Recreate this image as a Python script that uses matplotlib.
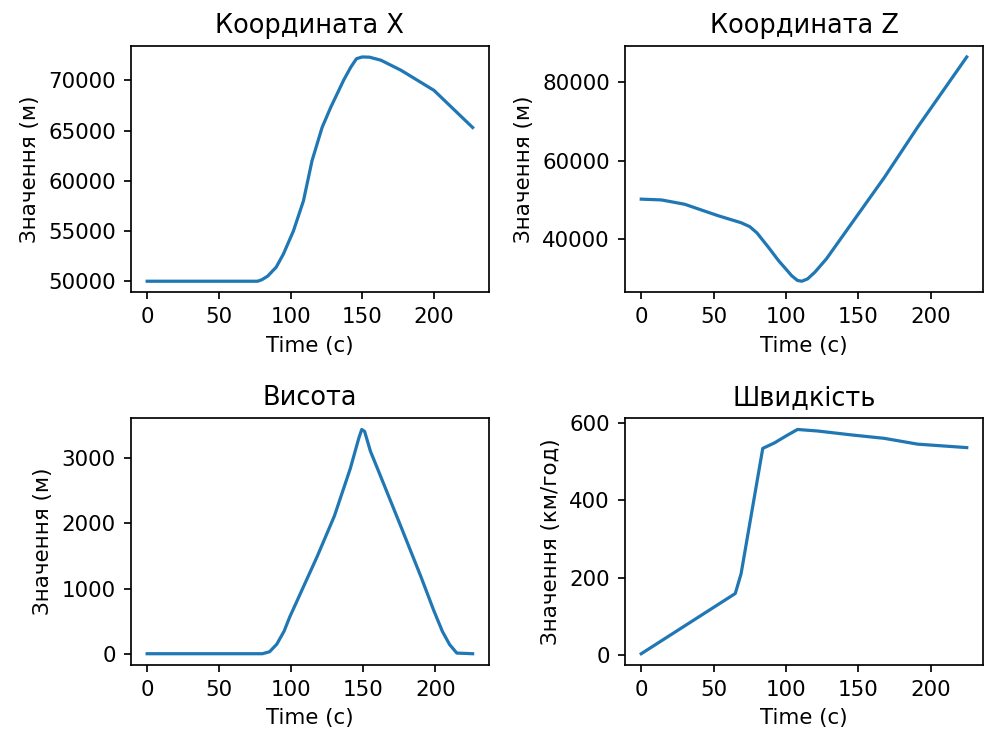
import matplotlib
matplotlib.use("Agg")
import matplotlib.pyplot as plt

# Координата X
x_time = [0, 40, 77, 80, 84, 90, 95, 102, 109, 115, 122, 128, 137, 142, 146, 150, 155, 163, 177, 200, 227]
x_vals = [50000, 50000, 50000, 50150, 50500, 51400, 52700, 55000, 58000, 62000, 65300, 67300, 70000,
          71300, 72150, 72320, 72300, 72000, 71000, 69000, 65300]

# Координата Z
z_time = [0, 14, 30, 53, 69, 75, 80, 88, 95, 100, 104, 108, 111, 115, 120, 128, 145, 168, 191, 225]
z_vals = [50200, 50000, 48900, 46000, 44200, 43200, 41600, 37900, 34500, 32400, 30700, 29500,
          29300, 29900, 31600, 35000, 43800, 55700, 68500, 86400]

# Висота
h_time = [0, 40, 80, 85, 90, 95, 99, 118, 130, 141, 147, 149, 151, 155, 160, 176, 190, 199, 205, 210, 215, 226]
h_vals = [10, 10, 10, 40, 155, 350, 570, 1490, 2110, 2830, 3300, 3430, 3400, 3100, 2830, 1960,
          1190, 670, 350, 150, 20, 10]

# Швидкість
v_time = [0, 65, 69, 84, 92, 100, 108, 122, 145, 168, 191, 225]
v_vals = [3, 159, 210, 535, 549, 567, 584, 580, 570, 561, 546, 537]

panels = [
    ("Координата X", x_time, x_vals, "Значення (м)"),
    ("Координата Z", z_time, z_vals, "Значення (м)"),
    ("Висота", h_time, h_vals, "Значення (м)"),
    ("Швидкість", v_time, v_vals, "Значення (км/год)"),
]

fig, axes = plt.subplots(2, 2, figsize=(6.4, 4.8))
for ax, (title, t, vals, ylabel) in zip(axes.ravel(), panels):
    ax.plot(t, vals)
    ax.set_title(title)
    ax.set_xlabel("Time (c)")
    ax.set_ylabel(ylabel)

fig.subplots_adjust(left=0.133, right=0.999, top=0.938, bottom=0.099, wspace=0.38, hspace=0.51)
fig.savefig("out.png", dpi=153.75)
